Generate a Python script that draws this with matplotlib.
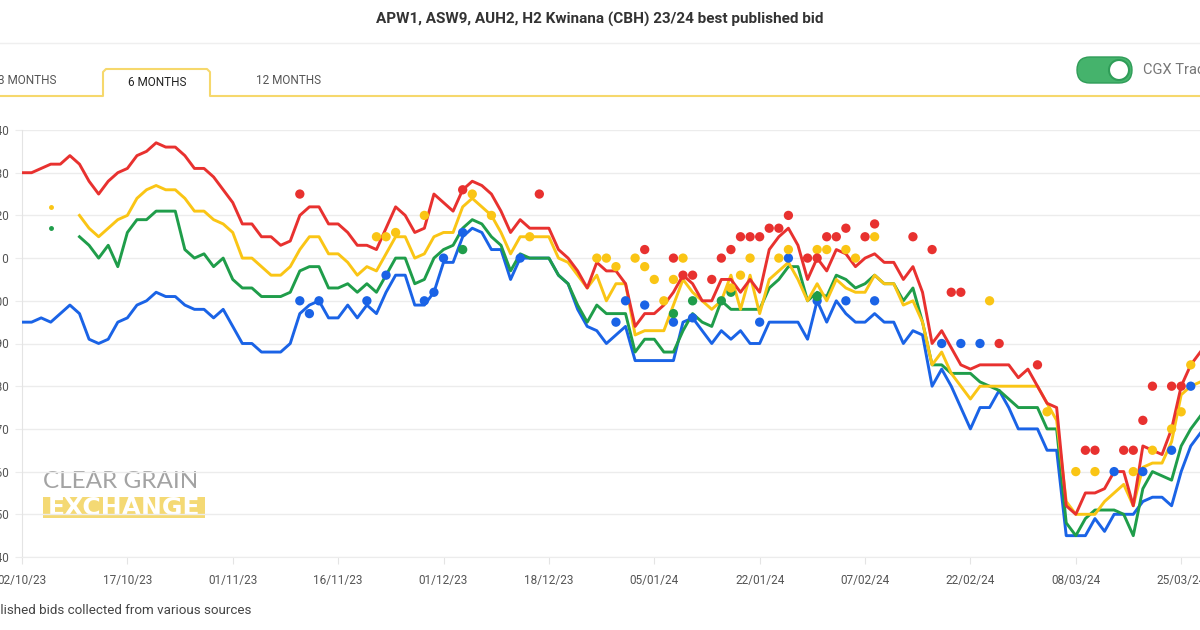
import numpy as np
import matplotlib.pyplot as plt
from matplotlib.patches import FancyBboxPatch, Rectangle, Circle

plt.rcParams['font.family'] = ['Roboto', 'DejaVu Sans']

nan = np.nan

# x axis: one point per trading day, a label every 11 days
tick_labels = ['02/10/23', '17/10/23', '01/11/23', '16/11/23', '01/12/23', '18/12/23',
               '05/01/24', '22/01/24', '07/02/24', '22/02/24', '08/03/24', '25/03/24']

# best published bid ($/t) per grade
red_line = [430, 430, 431, 432, 432, 434, 432, 428, 425, 428,
            430, 431, 434, 435, 437, 436, 436, 434, 431, 431,
            429, 426, 423, 418, 418, 415, 415, 413, 414, 420,
            422, 422, 418, 418, 416, 413, 413, 412, 417, 422,
            420, 416, 417, 425, 423, 421, 426, 428, 427, 425,
            421, 416, 419, 417, 417, 417, 412, 410, 407, 403,
            409, 407, 407, 404, 394, 397, 397, 399, 402, 406,
            404, 400, 400, 405, 405, 402, 405, 402, 412, 415,
            417, 413, 405, 410, 407, 412, 411, 408, 410, 411,
            409, 409, 405, 408, 402, 390, 393, 389, 385, 384,
            385, 385, 385, 385, 382, 384, 380, 376, 375, 352,
            350, 355, 355, 356, 360, 360, 352, 366, 365, 364,
            370, 380, 385, 388]

yellow_line = [nan, nan, nan, 422, nan, nan, 420, 417, 415, 417,
               419, 420, 424, 426, 427, 426, 426, 424, 421, 421,
               419, 418, 416, 410, 410, 408, 406, 406, 408, 412,
               415, 415, 411, 411, 409, 406, 408, 407, 411, 415,
               415, 410, 411, 415, 416, 416, 422, 424, 422, 420,
               416, 411, 415, 415, 415, 415, 410, 409, 406, 403,
               406, 400, 404, 404, 392, 393, 393, 393, 399, 405,
               402, 400, 398, 400, 406, 398, 406, 397, 405, 407,
               409, 405, 400, 404, 400, 405, 403, 402, 402, 406,
               404, 404, 399, 400, 395, 385, 388, 383, 380, 377,
               380, 380, 380, 380, 380, 380, 380, 376, 372, 353,
               350, 350, 350, 353, 355, 357, 352, 361, 362, 362,
               367, 378, 380, 381]

green_line = [nan, nan, nan, 417, nan, nan, 415, 413, 410, 413,
              408, 416, 419, 419, 421, 421, 421, 412, 410, 411,
              408, 410, 405, 403, 403, 401, 401, 401, 402, 407,
              408, 408, 403, 403, 404, 402, 404, 402, 406, 410,
              410, 404, 405, 410, 412, 413, 417, 419, 418, 415,
              413, 407, 411, 410, 410, 410, 406, 404, 399, 395,
              399, 397, 397, 397, 388, 391, 391, 388, 388, 393,
              397, 395, 394, 400, 398, 398, 398, 398, 403, 405,
              408, 408, 400, 402, 401, 406, 405, 403, 404, 406,
              404, 404, 400, 403, 395, 385, 385, 383, 383, 383,
              381, 380, 379, 377, 375, 375, 375, 370, 370, 348,
              345, 349, 351, 351, 351, 350, 345, 356, 360, 359,
              358, 366, 370, 373]

blue_line = [395, 395, 396, 395, 397, 399, 397, 391, 390, 391,
             395, 396, 399, 400, 402, 401, 401, 399, 398, 398,
             396, 398, 394, 390, 390, 388, 388, 388, 390, 397,
             399, 400, 396, 396, 399, 396, 399, 397, 402, 406,
             406, 399, 399, 402, 409, 409, 415, 417, 416, 412,
             412, 405, 410, 410, 410, 410, 406, 404, 398, 394,
             393, 390, 392, 394, 386, 386, 386, 386, 386, 395,
             396, 393, 390, 393, 391, 393, 390, 390, 395, 395,
             395, 395, 391, 400, 395, 400, 397, 395, 395, 397,
             395, 395, 390, 393, 392, 380, 384, 380, 375, 370,
             375, 375, 379, 375, 370, 370, 370, 365, 365, 345,
             345, 345, 349, 346, 350, 350, 350, 353, 354, 354,
             352, 360, 366, 369]

# published bids from other sources (day index, $/t)
red_dot_idx = [29, 46, 54, 65, 68, 69, 70, 72, 73, 74, 75, 76, 77, 78, 79, 80, 82, 83, 84, 85,
               86, 88, 89, 93, 95, 97, 98, 102, 106, 111, 112, 115, 116, 117, 118, 120, 121]
red_dot_val = [425, 426, 425, 412, 410, 406, 406, 405, 410, 412, 415, 415, 415, 417, 417, 420, 410, 410, 415, 415,
               417, 415, 418, 415, 412, 402, 402, 390, 385, 365, 365, 365, 365, 372, 380, 380, 380]

yellow_dot_idx = [37, 38, 39, 42, 47, 49, 53, 60, 61, 62, 64, 65, 66, 67, 68, 69, 74, 75, 76, 79,
                  80, 83, 84, 86, 87, 89, 101, 107, 110, 112, 116, 118, 120, 121, 122]
yellow_dot_val = [415, 415, 416, 420, 425, 420, 415, 410, 410, 408, 410, 408, 405, 400, 405, 410, 403, 406, 410, 410,
                  412, 412, 412, 412, 410, 415, 400, 374, 360, 360, 360, 365, 370, 374, 385]

green_dot_idx = [46, 68, 70, 73, 74, 83]
green_dot_val = [412, 397, 400, 400, 402, 401]

blue_dot_idx = [29, 30, 31, 36, 38, 42, 43, 44, 46, 52, 62, 63, 65, 68, 70, 77, 80, 83, 86, 89,
                96, 98, 100, 114, 117, 120, 122]
blue_dot_val = [400, 397, 400, 400, 406, 400, 402, 410, 416, 410, 395, 400, 399, 395, 396, 395, 410, 400, 400, 400,
                390, 390, 390, 360, 360, 365, 380]

RED, YELLOW, GREEN, BLUE = '#e8312f', '#fac515', '#1f9d4a', '#1a63e6'

W, H = 1200, 630
fig = plt.figure(figsize=(12, 6.3), dpi=100)

# page chrome drawn in pixel coordinates
bg = fig.add_axes([0, 0, 1, 1])
bg.set_xlim(0, W)
bg.set_ylim(H, 0)
bg.axis('off')

bg.text(600, 19, 'APW1, ASW9, AUH2, H2 Kwinana (CBH) 23/24 best published bid',
        ha='center', va='center', fontsize=11, fontweight='bold', color='#333333')
bg.plot([0, W], [43, 43], color='#efefef', lw=1)

# tabs
bg.plot([0, 103, 103, 106, 207, 210, 210, W], [96, 96, 72, 69, 69, 72, 96, 96],
        color='#f6d86c', lw=1.5)
bg.text(57, 81, '3 MONTHS', ha='right', va='center', fontsize=8.5, color='#555555')
bg.text(157, 82, '6 MONTHS', ha='center', va='center', fontsize=8.5, color='#222222')
bg.text(289, 81, '12 MONTHS', ha='center', va='center', fontsize=8.5, color='#555555')

# toggle
bg.add_patch(FancyBboxPatch((1077, 57), 55, 26, boxstyle='round,pad=0,rounding_size=13',
                            fc='#45b36c', ec='#2f9d58', lw=1))
bg.add_patch(Circle((1119, 70), 10, fc='white', ec='#2f9d58', lw=1.5))
bg.text(1143, 70, 'CGX Trades', ha='left', va='center', fontsize=10.5, color='#777777')

# watermark
bg.text(43, 482, 'CLEAR GRAIN', ha='left', va='center', fontsize=17.5, color='#a3a3a3',
        family=['Lato', 'DejaVu Sans'])
bg.add_patch(Rectangle((43, 497), 162, 21, fc='#f3d35c', ec='none', alpha=0.85))
bg.text(124, 508, 'EXCHANGE', ha='center', va='center', fontsize=18, fontweight='bold',
        color='white', family=['DejaVu Sans'])

bg.text(251, 611, 'Published bids collected from various sources', ha='right', va='center',
        fontsize=9.6, color='#444444')

# chart
step = 9.58
ax = fig.add_axes([22 / W, 1 - 557 / H, (W - 22) / W, (557 - 130) / H])
ax.patch.set_alpha(0)

x = np.arange(len(red_line))
for vals, col in [(blue_line, BLUE), (green_line, GREEN), (yellow_line, YELLOW), (red_line, RED)]:
    v = np.array(vals, dtype=float)
    ax.plot(x, v, color=col, lw=2.1, solid_joinstyle='round', zorder=3)
    # points with no neighbours only show as a tiny dot
    for i in range(len(v)):
        left = v[i - 1] if i > 0 else nan
        right = v[i + 1] if i < len(v) - 1 else nan
        if not np.isnan(v[i]) and np.isnan(left) and np.isnan(right):
            ax.plot(i, v[i], 'o', color=col, ms=2.5, zorder=3)

for idx, vals, col in [(blue_dot_idx, blue_dot_val, BLUE), (green_dot_idx, green_dot_val, GREEN),
                       (yellow_dot_idx, yellow_dot_val, YELLOW), (red_dot_idx, red_dot_val, RED)]:
    ax.scatter(idx, vals, s=45, color=col, edgecolors='none', zorder=4)

ax.set_xlim(0, (W - 22) / step)
ax.set_ylim(340, 440)
ax.set_yticks(np.arange(340, 441, 10))
ax.set_xticks(np.arange(0, len(x), 11))
ax.set_xticklabels(tick_labels)
ax.grid(axis='y', color='#ececec', lw=1)
ax.set_axisbelow(True)
for s in ['top', 'right']:
    ax.spines[s].set_visible(False)
ax.spines['left'].set_color('#e4e4e4')
ax.spines['bottom'].set_color('#ececec')
ax.tick_params(axis='y', length=5, color='#ececec', pad=4, labelsize=8.5, labelcolor='#555555')
ax.tick_params(axis='x', length=5, color='#e4e4e4', pad=7, labelsize=8.5, labelcolor='#555555')

fig.savefig('out.png', dpi=100)
